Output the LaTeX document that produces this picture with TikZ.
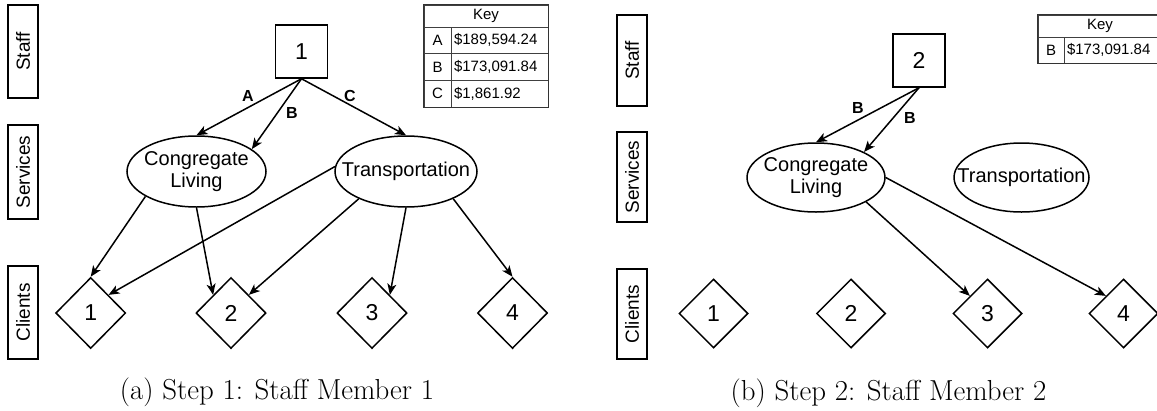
\documentclass[tikz,border=0pt]{standalone}
\usepackage{fontspec}
\newfontfamily\diagfont{Liberation Sans}
\usetikzlibrary{shapes.geometric,arrows.meta}

\tikzset{
  lane/.style={draw, line width=1.5pt, rotate=90, inner sep=0pt,
    minimum height=30pt, font=\diagfont\fontsize{19}{22}\selectfont},
  staffbox/.style={draw, line width=1.5pt, inner sep=0pt,
    minimum width=52pt, minimum height=53pt,
    font=\diagfont\fontsize{23}{26}\selectfont},
  service/.style={draw, ellipse, line width=1.5pt, inner sep=0pt},
  svctext/.style={font=\diagfont\fontsize{20}{22.5}\selectfont, align=center},
  client/.style={draw, diamond, line width=1.5pt, inner sep=0pt,
    font=\diagfont\fontsize{23}{26}\selectfont},
  flow/.style={line width=1.5pt, -{Stealth[length=11pt,width=9pt,inset=3pt]}},
  edgelabel/.style={font=\diagfont\bfseries\fontsize{16}{18}\selectfont, inner sep=0pt},
  keycell/.style={draw=black!75, line width=0.9pt, inner sep=0pt,
    font=\diagfont\fontsize{15}{17}\selectfont},
  keyframe/.style={draw=black!80, line width=1.8pt},
  subcaption/.style={font=\fontsize{28.9}{34}\selectfont, inner sep=0pt}
}

\begin{document}
\begin{tikzpicture}[x=1pt, y=-1pt]
\useasboundingbox (0,0) rectangle (1157,410);
\clip (0,0) rectangle (1157,410);

% ---------------- (a) Step 1 ----------------
\node[lane, minimum width=93pt] (staffA) at (23,51.5) {Staff};
\node[lane, minimum width=94pt] (servA) at (23,172) {Services};
\node[lane, minimum width=93pt] (cliA) at (23,312.5) {Clients};

\node[staffbox] (s1) at (301.5,51.5) {1};

\node[service, minimum width=139pt, minimum height=71pt,
  label={[svctext]center:Congregate\\Living}] (cgA) at (196.5,171.5) {};
\node[service, minimum width=142pt, minimum height=71pt,
  label={[svctext]center:Transportation}] (trA) at (406,171.5) {};

\foreach \i/\x in {1/90.7, 2/231, 3/372, 4/512.5}
  \node[client, minimum width=70pt, minimum height=71pt] (cA\i) at (\x,313) {\i};

\draw[flow] (s1.south) -- (cgA.north);
\draw[flow] (s1.south) -- (cgA.22);
\draw[flow] (s1.south) -- (trA.north);
\node[edgelabel] (la) at (248,96) {A};
\node[edgelabel] (lb) at (292,113) {B};
\node[edgelabel] (lc) at (350,96) {C};

\draw[flow] (cgA.-154) -- (cA1.north);
\draw[flow] (cgA.south) -- (cA2.north west);
\draw[flow] (trA.176) -- (cA1.north east);
\draw[flow] (trA.-150) -- (cA2.north east);
\draw[flow] (trA.south) -- (cA3.north east);
\draw[flow] (trA.-30) -- (cA4.north);

% key table
\node[keycell, minimum width=124pt, minimum height=22pt] (kAh) at (486,16) {Key};
\foreach \r/\l/\v [count=\k] in {A/A/\$189{,}594.24, B/B/\$173{,}091.84, C/C/\$1{,}861.92} {
  \node[keycell, minimum width=27pt, minimum height=26.7pt] (kA\r) at (437.5,{27+26.7*(\k-0.5)}) {\l};
  \node[keycell, minimum width=97pt, minimum height=26.7pt, text width=91pt, align=left]
    (kA\r v) at (499.5,{27+26.7*(\k-0.5)}) {\v};
}
\draw[keyframe] (kAh.north west) rectangle (kACv.south east);

\node[subcaption] (capA) at (277,392) {(a) Step 1: Staff Member 1};

% ---------------- (b) Step 2 ----------------
\node[lane, minimum width=91pt] (staffB) at (632,60.5) {Staff};
\node[lane, minimum width=90pt] (servB) at (632,177) {Services};
\node[lane, minimum width=90pt] (cliB) at (632,314) {Clients};

\node[staffbox] (s2) at (919,60.5) {2};

\node[service, minimum width=138pt, minimum height=69pt,
  label={[svctext]center:Congregate\\Living}] (cgB) at (816,177.5) {};
\node[service, minimum width=135pt, minimum height=69pt,
  label={[svctext]center:Transportation}] (trB) at (1021.5,177.5) {};

\foreach \i/\x in {1/713.5, 2/851, 3/987.5, 4/1123.5}
  \node[client, minimum width=69pt, minimum height=69pt] (cB\i) at (\x,313.5) {\i};

\draw[flow] (s2.south) -- (cgB.north);
\draw[flow] (s2.south) -- (cgB.28);
\node[edgelabel] (lb1) at (858,108) {B};
\node[edgelabel] (lb2) at (910,118) {B};

\draw[flow] (cgB.-26) -- (cB3.north west);
\draw[flow] (cgB.east) -- (cB4.north west);

% key table
\node[keycell, minimum width=124pt, minimum height=22pt] (kBh) at (1100,26) {Key};
\node[keycell, minimum width=26pt, minimum height=26pt] (kBB) at (1051,50) {B};
\node[keycell, minimum width=98pt, minimum height=26pt, text width=92pt, align=left]
  (kBBv) at (1113,50) {\$173{,}091.84};
\draw[keyframe] (kBh.north west) rectangle (kBBv.south east);

\node[subcaption] (capB) at (888.5,393) {(b) Step 2: Staff Member 2};
\end{tikzpicture}
\end{document}
